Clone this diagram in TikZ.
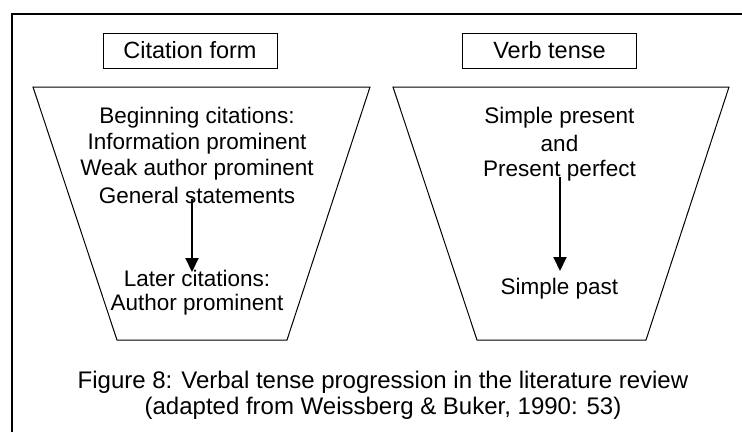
\documentclass[tikz,border=0pt]{standalone}
\usepackage{fontspec}
\setmainfont{Liberation Sans}
\usetikzlibrary{arrows.meta}
\begin{document}
\begin{tikzpicture}[x=1pt,y=-1pt,
  txt/.style={font=\fontsize{22.5}{26}\selectfont, inner sep=0pt, align=center},
  captxt/.style={font=\fontsize{24}{26}\selectfont, inner sep=0pt, align=center},
  titlebox/.style={draw, line width=1pt, minimum width=174pt, minimum height=35pt, font=\fontsize{23.5}{26}\selectfont, inner sep=0pt},
  funnel/.style={draw, line width=1pt},
  flow/.style={line width=2pt, -{Triangle[width=13pt,length=14pt]}}]
\useasboundingbox (0,0) rectangle (742,432);
% frame (cut at right and bottom)
\draw[line width=2pt] (12,432) -- (12,14) -- (742,14);
% title boxes
\node[titlebox] (cf) at (190,50.5) {Citation form};
\node[titlebox] (vt) at (549.5,50.5) {Verb tense};
% funnels
\draw[funnel] (33,87) -- (370,87) -- (287,340) -- (117,340) -- cycle;
\draw[funnel] (393,87) -- (729,87) -- (646,340) -- (477,340) -- cycle;
% left texts
\node[txt] (b1) at (197,118) {Beginning citations:};
\node[txt] (b2) at (197,143.5) {Information prominent};
\node[txt] (b3) at (197,169.5) {Weak author prominent};
\node[txt] (b4) at (197,195.5) {General statements};
\node[txt] (l1) at (197,278) {Later citations:};
\node[txt] (l2) at (197,304.5) {Author prominent};
% right texts
\node[txt] (r1) at (559.5,118) {Simple present};
\node[txt] (r2) at (559.5,143.5) {and};
\node[txt] (r3) at (559.5,171) {Present perfect};
\node[txt] (r4) at (559.5,289) {Simple past};
% arrows
\coordinate (a1s) at (192,199);
\coordinate (a1e) at (192,272);
\coordinate (a2s) at (560,177);
\coordinate (a2e) at (560,271);
\draw[flow] (a1s) -- (a1e);
\draw[flow] (a2s) -- (a2e);
% caption
\node[captxt] (cap1) at (383,382) {Figure 8: Verbal tense progression in the literature review};
\node[captxt] (cap2) at (383,408) {(adapted from Weissberg \& Buker, 1990: 53)};
\end{tikzpicture}
\end{document}
